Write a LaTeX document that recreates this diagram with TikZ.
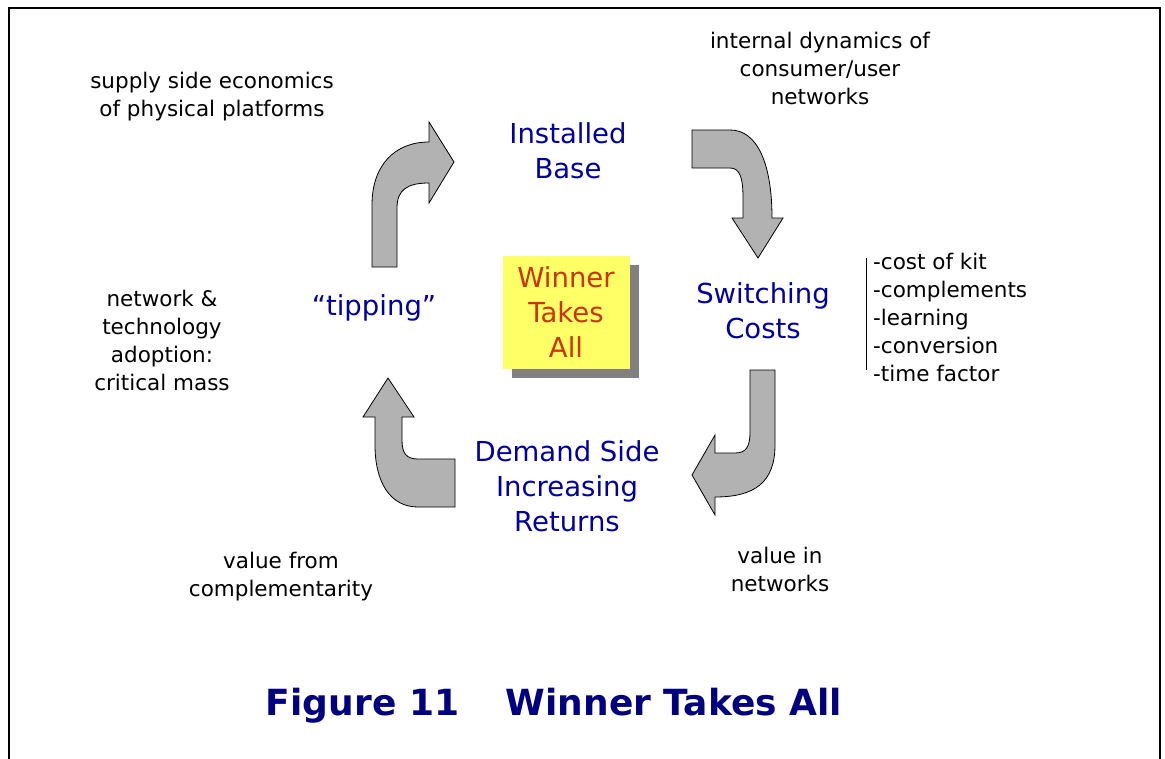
\documentclass[tikz,border=0pt]{standalone}
\usepackage{fontspec}
\setmainfont{DejaVu Sans}
\usetikzlibrary{shadows}
\definecolor{stageblue}{RGB}{0,0,160}
\definecolor{titleblue}{RGB}{0,0,128}
\definecolor{winred}{RGB}{204,51,0}
\definecolor{boxyellow}{RGB}{255,255,102}
\definecolor{arrowgray}{RGB}{178,178,178}
\definecolor{shadowgray}{RGB}{128,128,128}
\begin{document}
\begin{tikzpicture}[x=1pt, y=-1pt,
	note/.style = {align=center, inner sep=0pt, font=\fontsize{21.5}{28}\selectfont},
	stage/.style = {align=center, inner sep=0pt, text=stageblue, font=\fontsize{27.5}{35}\selectfont},
	bentarrow/.style = {draw=black, fill=arrowgray, line width=0.8pt},
	winbox/.style = {fill=boxyellow, text=winred, align=center, minimum width=127pt, minimum height=113pt,
		font=\fontsize{27.5}{35}\selectfont, general shadow={fill=shadowgray, shadow xshift=9pt, shadow yshift=-9pt}}]
\useasboundingbox (0,0) rectangle (1165,758);
% frame
\draw[line width=2pt] (9,760) -- (9,8) -- (1160,8) -- (1160,760);
% the cycle
\node[stage] (base) at (568,151) {Installed\\Base};
\node[stage] (switch) at (763,311) {Switching\\Costs};
\node[stage] (demand) at (567,486) {Demand Side\\Increasing\\Returns};
\node[stage] (tip) at (374,308) {“tipping”};
\node[winbox] (win) at (566,312) {Winner\\Takes\\All};
% bent arrows
\draw[bentarrow] (372,267) -- (372,205) .. controls (372,165) and (395,142) .. (429,142) -- (429,122) -- (454,162)
	-- (429,203) -- (429,183) .. controls (407,183) and (397,190) .. (397,208) -- (397,267) -- cycle;
\draw[bentarrow] (692,130) -- (730,130) .. controls (758,130) and (772,165) .. (772,218) -- (783,218) -- (758,258)
	-- (732,218) -- (743,218) -- (743,198) .. controls (743,178) and (740,168) .. (730,168) -- (692,168) -- cycle;
\draw[bentarrow] (750,370) -- (775,370) -- (775,445) .. controls (775,482) and (755,497) .. (715,497) -- (715,515)
	-- (692,475) -- (715,435) -- (715,453) -- (735,453) .. controls (746,453) and (750,447) .. (750,432) -- cycle;
\draw[bentarrow] (388,378) -- (414,417) -- (402,417) -- (402,440) .. controls (402,453) and (406,459) .. (418,459)
	-- (455,459) -- (455,507) -- (418,507) .. controls (390,507) and (375,482) .. (375,445) -- (375,417) -- (363,417) -- cycle;
% notes
\node[note] (supply) at (212,97) {supply side economics\\of physical platforms};
\node[note] (internal) at (820,68) {internal dynamics of\\consumer/user\\networks};
\node[note] (adopt) at (162,340) {network \&\\technology\\adoption:\\critical mass};
\node[note] (compl) at (281,577) {value from\\complementarity};
\node[note] (valnet) at (780,569) {value in\\networks};
\node[note, align=left, anchor=west] (kit) at (873,317) {-cost of kit\\-complements\\-learning\\-conversion\\-time factor};
\draw (866,258) -- (866,370);
% caption
\node[text=titleblue, font=\bfseries\fontsize{36}{40}\selectfont] (caption) at (554,706) {Figure 11\hspace{1.3em}Winner Takes All};
\end{tikzpicture}
\end{document}
